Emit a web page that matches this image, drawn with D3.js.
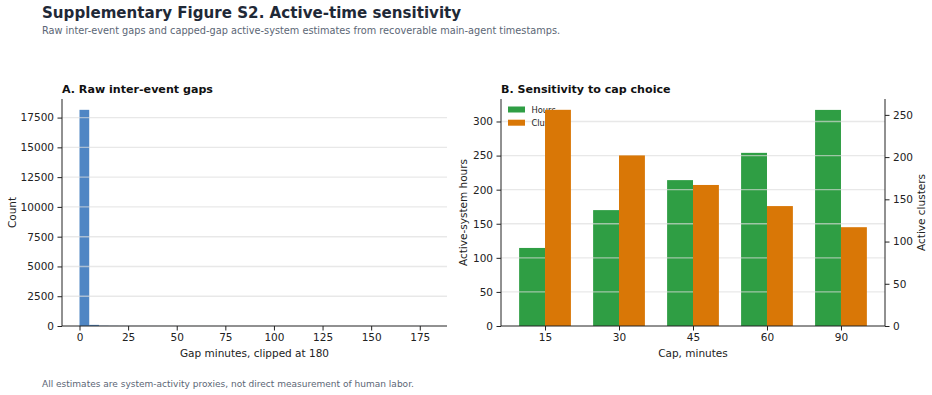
<!DOCTYPE html>
<html><head><meta charset="utf-8">
<script src="https://cdn.jsdelivr.net/npm/d3@7"></script>
<style>body{margin:0;background:#fff;} svg{display:block;font-family:"DejaVu Sans",sans-serif;}</style>
</head><body>
<svg id="c" width="932" height="395"></svg>
<script>
// ---- data ----
const histBinStarts = [0,5,10,15,20,25,30,35,40,45,50,55,60,65,70,75,80,85,90,95,100,105,110,115,120,125,130,135,140,145,150,155,160,165,170,175];
const histCounts = [18150,95,22,12,8,6,5,4,3,3,2,2,2,2,1,1,1,1,1,1,1,1,1,1,1,1,1,1,1,1,1,1,1,1,1,6];
const histBinWidth = 5;
const histXTicks = [0,25,50,75,100,125,150,175];
const histYTicks = [0,2500,5000,7500,10000,12500,15000,17500];

const capCategories = ["15","30","45","60","90"];
const hoursValues = [114.5,170,214,254,317];
const clusterValues = [256,202,167,142,117];
const hoursTicks = [0,50,100,150,200,250,300];
const clusterTicks = [0,50,100,150,200,250];

const svg = d3.select("#c");
const textCol = "#222";
const gridCol = "#dcdcdc";
const fs = 10.5;

// titles
svg.append("text").attr("x",42).attr("y",18).attr("font-size",15.1).attr("font-weight","bold").attr("fill","#1f2937").text("Supplementary Figure S2. Active-time sensitivity");
svg.append("text").attr("x",42).attr("y",34).attr("font-size",9.75).attr("fill","#5b6675").text("Raw inter-event gaps and capped-gap active-system estimates from recoverable main-agent timestamps.");
svg.append("text").attr("x",42).attr("y",387).attr("font-size",9.03).attr("fill","#5b6675").text("All estimates are system-activity proxies, not direct measurement of human labor.");

function styleAxis(g){
  g.selectAll(".domain").attr("stroke","#222").attr("stroke-width",1);
  g.selectAll(".tick line").attr("stroke","#222");
  g.selectAll(".tick text").attr("fill",textCol).attr("font-size",fs).attr("font-family","DejaVu Sans");
}
function grid(g, ys, x1, x2){
  g.selectAll("line.grid").data(ys).join("line").attr("class","grid")
    .attr("x1",x1).attr("x2",x2).attr("y1",d=>d).attr("y2",d=>d)
    .attr("stroke",gridCol).attr("stroke-opacity",0.65).attr("stroke-width",1.4);
}

// ---- Panel A ----
const A = {l:62, r:447, t:99, b:326};
const xA = d3.scaleLinear().domain([-9,189]).range([A.l,A.r]);
const yA = d3.scaleLinear().domain([0,19060]).range([A.b,A.t]);
const gA = svg.append("g");
gA.selectAll("rect").data(histCounts).join("rect")
  .attr("x",(d,i)=>xA(histBinStarts[i]))
  .attr("width",(d,i)=>xA(histBinStarts[i]+histBinWidth)-xA(histBinStarts[i]))
  .attr("y",d=>yA(d)).attr("height",d=>yA(0)-yA(d))
  .attr("fill","#4f86c4");
grid(gA, histYTicks.slice(1).map(d=>yA(d)), A.l, A.r);
const axAx = svg.append("g").attr("transform",`translate(0,${A.b})`).call(d3.axisBottom(xA).tickValues(histXTicks).tickSize(4.5).tickPadding(3.5).tickSizeOuter(0));
axAx.select(".domain").attr("d",`M${A.l},0H${A.r}`);
styleAxis(axAx);
const ayAx = svg.append("g").attr("transform",`translate(${A.l},0)`).call(d3.axisLeft(yA).tickValues(histYTicks).tickFormat(d3.format("d")).tickSize(4.5).tickPadding(3.5).tickSizeOuter(0));
ayAx.select(".domain").attr("d",`M0,${A.b}V${A.t}`);
styleAxis(ayAx);
svg.append("text").attr("x",62).attr("y",93).attr("font-size",11.1).attr("font-weight","bold").attr("fill","#111").text("A. Raw inter-event gaps");
svg.append("text").attr("x",(A.l+A.r)/2).attr("y",357).attr("text-anchor","middle").attr("font-size",fs).attr("fill",textCol).text("Gap minutes, clipped at 180");
svg.append("text").attr("transform",`translate(16,${(A.t+A.b)/2}) rotate(-90)`).attr("text-anchor","middle").attr("font-size",fs).attr("fill",textCol).text("Count");

// ---- Panel B ----
const B = {l:501, r:885, t:99, b:326};
const xB = d3.scaleLinear().domain([-0.595,4.595]).range([B.l,B.r]);
const yB = d3.scaleLinear().domain([0,333]).range([B.b,B.t]);
const yB2 = d3.scaleLinear().domain([0,268.8]).range([B.b,B.t]);
const bw = 0.35;
const gB = svg.append("g");
gB.selectAll("rect.h").data(hoursValues).join("rect").attr("class","h")
  .attr("x",(d,i)=>xB(i-bw)).attr("width",xB(bw)-xB(0))
  .attr("y",d=>yB(d)).attr("height",d=>yB(0)-yB(d)).attr("fill","#2f9e44");
grid(gB, hoursTicks.slice(1).map(d=>yB(d)), B.l, B.r);
// legend (belongs to primary axis, sits below secondary bars)
const leg = gB.append("g");
[["Hours","#2f9e44"],["Clusters","#d97706"]].forEach((e,i)=>{
  leg.append("rect").attr("x",508).attr("y",106.5+i*13.2).attr("width",17).attr("height",6).attr("fill",e[1]);
  leg.append("text").attr("x",531.5).attr("y",112.5+i*13.2).attr("font-size",8.3).attr("fill",textCol).text(e[0]);
});
gB.selectAll("rect.c").data(clusterValues).join("rect").attr("class","c")
  .attr("x",(d,i)=>xB(i)).attr("width",xB(bw)-xB(0))
  .attr("y",d=>yB2(d)).attr("height",d=>yB2(0)-yB2(d)).attr("fill","#d97706");

const bxAx = svg.append("g").attr("transform",`translate(0,${B.b})`).call(d3.axisBottom(xB).tickValues([0,1,2,3,4]).tickFormat(i=>capCategories[i]).tickSize(4.5).tickPadding(3.5).tickSizeOuter(0));
bxAx.select(".domain").attr("d",`M${B.l},0H${B.r}`);
styleAxis(bxAx);
const byAx = svg.append("g").attr("transform",`translate(${B.l},0)`).call(d3.axisLeft(yB).tickValues(hoursTicks).tickSize(4.5).tickPadding(3.5).tickSizeOuter(0));
byAx.select(".domain").attr("d",`M0,${B.b}V${B.t}`);
styleAxis(byAx);
const byAx2 = svg.append("g").attr("transform",`translate(${B.r},0)`).call(d3.axisRight(yB2).tickValues(clusterTicks).tickSize(4.5).tickPadding(3.5).tickSizeOuter(0));
byAx2.select(".domain").attr("d",`M0,${B.b}V${B.t}`);
styleAxis(byAx2);
svg.append("text").attr("x",501).attr("y",93).attr("font-size",11.1).attr("font-weight","bold").attr("fill","#111").text("B. Sensitivity to cap choice");
svg.append("text").attr("x",(B.l+B.r)/2).attr("y",357).attr("text-anchor","middle").attr("font-size",fs).attr("fill",textCol).text("Cap, minutes");
svg.append("text").attr("transform",`translate(467,${(B.t+B.b)/2}) rotate(-90)`).attr("text-anchor","middle").attr("font-size",fs).attr("fill",textCol).text("Active-system hours");
svg.append("text").attr("transform",`translate(925,${(B.t+B.b)/2}) rotate(-90)`).attr("text-anchor","middle").attr("font-size",fs).attr("fill",textCol).text("Active clusters");
</script>
</body></html>
